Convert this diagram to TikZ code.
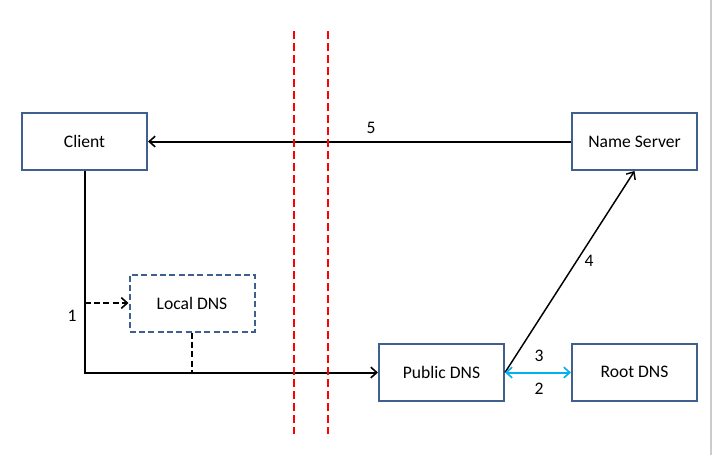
\documentclass[tikz,border=0pt]{standalone}
\usepackage{fontspec}
\setmainfont{Carlito}
\usetikzlibrary{arrows.meta}
\definecolor{boxblue}{HTML}{3F5F8F}
\definecolor{linkcyan}{HTML}{00B0F0}
\begin{document}
\begin{tikzpicture}[x=0.75pt,y=-0.75pt,
  box/.style={draw=boxblue,line width=1.5pt,minimum width=125*0.75pt,minimum height=57*0.75pt,inner sep=0pt,font=\fontsize{13.2}{15}\selectfont},
  conn/.style={line width=1.5pt,-{Straight Barb[length=4.5pt,width=8pt,line width=1.2pt]}},
  lbl/.style={font=\fontsize{13.2}{15}\selectfont,inner sep=0pt},
  wall/.style={draw=red,line width=1.5pt,dash pattern=on 6pt off 3pt}]
\useasboundingbox[fill=white] (0,0) rectangle (712,455);
\draw[gray!40,line width=1pt] (711,0) -- (711,455);
% firewalls
\coordinate (w1t) at (293.5,31); \coordinate (w1b) at (293.5,434);
\coordinate (w2t) at (327.5,31); \coordinate (w2b) at (327.5,434);
% nodes
\node[box] (client) at (84.5,141.5) {Client};
\node[box] (ns) at (634.5,141.5) {Name Server};
\node[box,dash pattern=on 4.5pt off 2.5pt] (local) at (192,303) {Local DNS};
\node[box] (public) at (441.5,372.5) {Public DNS};
\node[box] (root) at (634.5,372) {Root DNS};
% connectors
\draw[conn] (ns.west) -- (client.east);
\node[lbl] (l5) at (371,128) {5};
\coordinate (corner) at (client.south |- public.west);
\draw[conn] (client.south) -- (corner) -- (public.west);
\node[lbl] (l1) at (72,316) {1};
\coordinate (tap) at (client.south |- local.west);
\draw[line width=1.5pt,dash pattern=on 4.5pt off 2.5pt,-{Straight Barb[length=4.5pt,width=8pt,line width=1.2pt]}] (tap) -- (local.west);
\coordinate (join) at (local.south |- public.west);
\draw[line width=1.5pt,dash pattern=on 4.5pt off 2.5pt] (local.south) -- (join);
\draw[line width=1.1pt,-{Straight Barb[length=4.5pt,width=8pt,line width=1.1pt]}] (public.east) -- (ns.south);
\node[lbl] (l4) at (589,261) {4};
\draw[draw=linkcyan,line width=1.5pt,{Straight Barb[length=4.5pt,width=8pt,line width=1.2pt]}-{Straight Barb[length=4.5pt,width=8pt,line width=1.2pt]}] (public.east) -- (root.west |- public.east);
\node[lbl] (l3) at (539,356) {3};
\node[lbl] (l2) at (539,389) {2};
\draw[wall] (w1t) -- (w1b);
\draw[wall] (w2t) -- (w2b);
\end{tikzpicture}
\end{document}
